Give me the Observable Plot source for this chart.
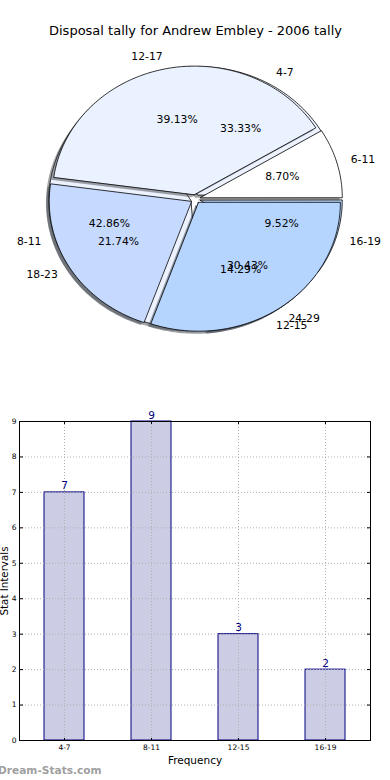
<!DOCTYPE html>
<html><head><meta charset="utf-8">
<script src="https://cdn.jsdelivr.net/npm/d3@7"></script>
<script src="https://cdn.jsdelivr.net/npm/@observablehq/plot@0.6"></script>
<style>
body{margin:0;width:390px;height:780px;position:relative;overflow:hidden;background:#fff;font-family:"DejaVu Sans",sans-serif;}
#pie{position:absolute;left:0;top:0}
#bar{position:absolute;left:0;top:400px}
#wm{position:absolute;left:-2px;top:763px;font:bold 10.6px/14px "DejaVu Sans",sans-serif;color:#a0a0a0;white-space:nowrap}
</style></head><body>
<div id="pie"></div><div id="bar"></div><div id="wm"></div>
<script>
const title = "Disposal tally for Andrew Embley - 2006 tally";
const pieACategories = ["4-7", "8-11", "12-15", "16-19"];
const pieAValues = [7, 9, 3, 2];
const pieAColors = ["#edf2ff", "#edf2ff", "#c6d9ff", "#b5d5ff"];
const pieBCategories = ["6-11", "12-17", "18-23", "24-29"];
const pieBValues = [2, 9, 5, 7];
const pieBColors = ["#ffffff", "#eaf1ff", "#c6d9ff", "#b5d5ff"];
const barCategories = ["4-7", "8-11", "12-15", "16-19"];
const barValues = [7, 9, 3, 2];
const yTicks = [0, 1, 2, 3, 4, 5, 6, 7, 8, 9];
const xLabel = "Frequency";
const yLabel = "Stat Intervals";
const watermark = "Dream-Stats.com";

document.getElementById("wm").textContent = watermark;

const EXPLODE = 0.035, SHADOW = 0.02;
function buildPie(cats, vals, colors) {
  const total = d3.sum(vals);
  let a0 = 0;
  const polys = [], labels = [], pcts = [];
  cats.forEach((c, i) => {
    const a1 = a0 + 360 * vals[i] / total;
    const mid = (a0 + a1) / 2 * Math.PI / 180;
    const cx = EXPLODE * Math.cos(mid), cy = EXPLODE * Math.sin(mid);
    const pts = [[cx, cy]];
    const n = Math.max(2, Math.ceil(a1 - a0));
    for (let k = 0; k <= n; k++) {
      const t = (a0 + (a1 - a0) * k / n) * Math.PI / 180;
      pts.push([cx + Math.cos(t), cy + Math.sin(t)]);
    }
    const rgb = d3.rgb(colors[i]);
    const sh = `rgba(${Math.round(rgb.r * 0.3)},${Math.round(rgb.g * 0.3)},${Math.round(rgb.b * 0.3)},0.5)`;
    polys.push({pts: pts.map(([x, y]) => ({x: x - SHADOW, y: y - SHADOW})), fill: sh, stroke: "none"});
    polys.push({pts: pts.map(([x, y]) => ({x, y})), fill: colors[i], stroke: "black"});
    labels.push({text: c, x: cx + 1.1 * Math.cos(mid), y: cy + 1.1 * Math.sin(mid)});
    pcts.push({text: (100 * vals[i] / total).toFixed(2) + "%", x: cx + 0.6 * Math.cos(mid), y: cy + 0.6 * Math.sin(mid)});
    a0 = a1;
  });
  return {polys, labels, pcts};
}
const pieA = buildPie(pieACategories, pieAValues, pieAColors);
const pieB = buildPie(pieBCategories, pieBValues, pieBColors);

const W = 390, H = 390, CX = 195, CY = 198.5, RX = 142, RY = 128.5;
const FS = 10.8;
function polyMarks(p) {
  return p.polys.map(q => Plot.line(q.pts, {x: "x", y: "y", fill: q.fill, stroke: q.stroke, strokeWidth: 0.8, curve: "linear-closed"}));
}
function textMarks(p) {
  return [
    Plot.text(p.labels.filter(d => d.x >= 0), {x: "x", y: "y", text: "text", textAnchor: "start", fontSize: FS, fill: "black"}),
    Plot.text(p.labels.filter(d => d.x < 0), {x: "x", y: "y", text: "text", textAnchor: "end", fontSize: FS, fill: "black"}),
    Plot.text(p.pcts, {x: "x", y: "y", text: "text", textAnchor: "middle", fontSize: FS, fill: "black"})
  ];
}
const piePlot = Plot.plot({
  width: W, height: H, margin: 0,
  style: {fontFamily: "DejaVu Sans", background: "white", color: "black"},
  x: {domain: [-CX / RX, (W - CX) / RX], axis: null},
  y: {domain: [-(H - CY) / RY, CY / RY], axis: null},
  marks: [
    ...polyMarks(pieA),
    ...polyMarks(pieB),
    ...textMarks(pieA),
    ...textMarks(pieB),
    Plot.text([title], {frameAnchor: "top", dy: 30, lineAnchor: "middle", textAnchor: "middle", fontSize: 13, fill: "black"})
  ]
});
document.getElementById("pie").append(piePlot);

const barData = barCategories.map((c, i) => ({cat: c, val: barValues[i]}));
const gridStyle = {stroke: "#b0b0b0", strokeOpacity: 1, strokeDasharray: "1,2", strokeWidth: 1};
const barPlot = Plot.plot({
  width: 390, height: 380, marginTop: 21, marginBottom: 40, marginLeft: 19, marginRight: 20,
  style: {fontFamily: "DejaVu Sans", background: "white", color: "black"},
  x: {domain: barCategories, paddingInner: 0.544, paddingOuter: 0.272, label: null},
  y: {domain: [0, 9], label: null},
  marks: [
    Plot.barY(barData, {x: "cat", y: "val", fill: "#ccCCe5", stroke: "#000080", strokeWidth: 1}),
    Plot.gridY({ticks: yTicks, ...gridStyle}),
    Plot.gridX({...gridStyle}),
    Plot.axisY({ticks: yTicks, tickSize: 0, tickPadding: 3, fontSize: 7.5, label: null}),
    Plot.axisX({tickSize: 0, tickPadding: 4, fontSize: 7.5, label: null}),
    Plot.axisY({ticks: yTicks, anchor: "right", text: null, tickSize: 3, dx: -351, label: null}),
    Plot.axisY({ticks: yTicks, anchor: "left", text: null, tickSize: 3, dx: 351, label: null}),
    Plot.axisX({anchor: "top", text: null, tickSize: 3, dy: 319, label: null}),
    Plot.axisX({anchor: "bottom", text: null, tickSize: 3, dy: -319, label: null}),
    Plot.text(barData, {x: "cat", y: "val", text: d => String(d.val), dy: -3, lineAnchor: "bottom", fill: "#000080", fontSize: 10.5}),
    Plot.text([xLabel], {frameAnchor: "bottom", dy: 20, lineAnchor: "middle", textAnchor: "middle", fontSize: 10.5, fill: "black"}),
    Plot.text([yLabel], {frameAnchor: "left", dx: -15, rotate: -90, textAnchor: "middle", lineAnchor: "middle", fontSize: 10.3, fill: "black"}),
    Plot.frame({stroke: "black"})
  ]
});
document.getElementById("bar").append(barPlot);
</script>
</body></html>
